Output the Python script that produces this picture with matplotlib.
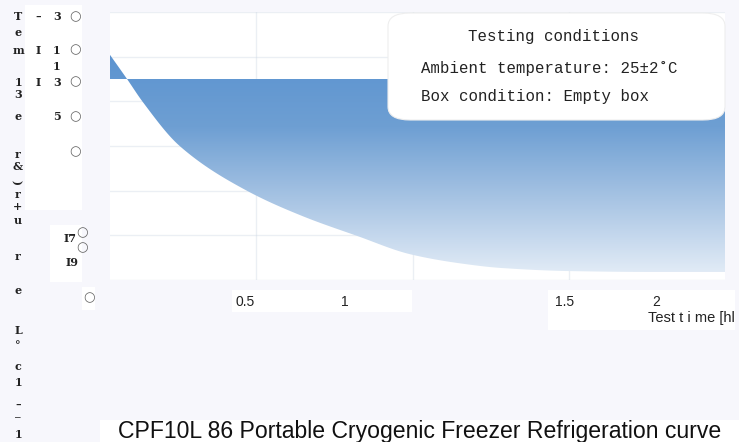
import numpy as np
import matplotlib
matplotlib.use("Agg")
import matplotlib.pyplot as plt
from matplotlib.patches import FancyBboxPatch, Rectangle

W, H = 739, 442

# refrigeration curve (hours, degC)
time_h = [0.064, 0.173, 0.274, 0.51, 0.942, 1.30, 1.647, 1.987, 2.30, 2.564, 3.0, 3.526, 4.0]
temp_c = [10.8, 0.0, -10.3, -30.0, -50.1, -61.5, -70.3, -78.5, -82.5, -84.6, -86.0, -86.4, -86.4]
start_level = 0.0

# garbled axis text as it appears
x_tick_text = ["0.5", "1", "1.5", "2"]
x_label_text = "Test t i me [hl"
y_col1 = ["T", "e", "m", "1", "3", "e", "r", "&", "(", "r", "+", "u", "r", "e", "L", "\u00b0", "c", "1", "\u2013", "\u203e", "1"]
y_col2 = ["\u2013", "I", "I"]
y_col3 = ["3", "1", "1", "3", "5"]
y_circ_text = ["I7", "I9"]
box_title = "Testing conditions"
box_lines = ["Ambient temperature: 25\u00b12\u02daC", "Box condition: Empty box"]
title = "CPF10L 86 Portable Cryogenic Freezer Refrigeration curve"


def fx(x):
    return x / W


def fy(y):
    return 1 - y / H


def pchip(xk, yk, xs):
    # monotone cubic so the curve stays smooth without overshoot
    xk = np.asarray(xk, float)
    yk = np.asarray(yk, float)
    h = np.diff(xk)
    d = np.diff(yk) / h
    m = np.zeros_like(yk)
    for i in range(1, len(xk) - 1):
        if d[i - 1] * d[i] > 0:
            w1 = 2 * h[i] + h[i - 1]
            w2 = h[i] + 2 * h[i - 1]
            m[i] = (w1 + w2) / (w1 / d[i - 1] + w2 / d[i])
    m[0] = d[0]
    m[-1] = d[-1]
    idx = np.clip(np.searchsorted(xk, xs) - 1, 0, len(h) - 1)
    t = (xs - xk[idx]) / h[idx]
    h00 = 2 * t**3 - 3 * t**2 + 1
    h10 = t**3 - 2 * t**2 + t
    h01 = -2 * t**3 + 3 * t**2
    h11 = t**3 - t**2
    return h00 * yk[idx] + h10 * h[idx] * m[idx] + h01 * yk[idx + 1] + h11 * h[idx] * m[idx + 1]


fig = plt.figure(figsize=(W / 100, H / 100), dpi=100)
fig.patch.set_facecolor("#f7f7fc")

ax = fig.add_axes([fx(110), fy(280), fx(725) - fx(110), fy(12) - fy(280)])
ax.set_facecolor("white")
ax.set_xlim(0.064, 4.0)
ax.set_ylim(-90, 30)
for s in ax.spines.values():
    s.set_visible(False)
ax.set_xticks([1, 2, 3])
ax.set_yticks(np.arange(-90, 31, 20))
ax.tick_params(length=0, labelbottom=False, labelleft=False)
ax.grid(True, color="#e3e3e8", lw=1.2, zorder=0)
ax.set_axisbelow(True)

# gradient fill between curve and start level
t = np.linspace(time_h[0], time_h[-1], 600)
v = pchip(time_h, temp_c, t)
poly = ax.fill_between(t, v, start_level, color="none", lw=0)
grad = np.linspace(0, 1, 256).reshape(-1, 1)
cmap = matplotlib.colors.LinearSegmentedColormap.from_list(
    "bl", ["#e4edf7", "#a9c5e4", "#6e9fd3", "#5b93d0"])
img = ax.imshow(grad, cmap=cmap, aspect="auto", origin="lower",
                extent=[time_h[0], time_h[-1], -88, 12], zorder=1)
img.set_clip_path(poly.get_paths()[0], transform=ax.transData)
ax.grid(True, color="#c8d3e0", lw=1, alpha=0.35, zorder=2)

# condition box
box = FancyBboxPatch((fx(388), fy(120)), fx(725) - fx(388), fy(13) - fy(120),
                     boxstyle="round,pad=0,rounding_size=0.03",
                     transform=fig.transFigure, fc="white", ec="#eeeeee", lw=0.8, zorder=5)
fig.add_artist(box)
fig.text(fx(553), fy(37), box_title, ha="center", va="center",
         family="Liberation Mono", fontsize=11.3, color="#222222", zorder=6)
for i, line in enumerate(box_lines):
    fig.text(fx(421), fy(68 + 29 * i), line, ha="left", va="center",
             family="Liberation Mono", fontsize=11.3, color="#222222", zorder=6)

# white patches behind garbled labels
for (x0, y0, x1, y1) in [(25, 5, 82, 210), (50, 225, 82, 282), (82, 287, 95, 310),
                         (232, 290, 412, 312), (548, 290, 735, 330), (100, 420, 739, 442)]:
    fig.add_artist(Rectangle((fx(x0), fy(y1)), fx(x1) - fx(x0), fy(y0) - fy(y1),
                             transform=fig.transFigure, fc="white", ec="none", zorder=1))

# x labels
for txt, xp in zip(x_tick_text, [245, 345, 565, 656]):
    fig.text(fx(xp), fy(302), txt, ha="center", va="center",
             family="Liberation Sans", fontsize=10, color="#222222", zorder=3)
fig.text(fx(735), fy(318), x_label_text, ha="right", va="center",
         family="Liberation Sans", fontsize=10.5, color="#222222", zorder=3)

# left garbled column
serif = dict(family=["DejaVu Serif", "DejaVu Sans"], fontsize=8, fontweight="bold",
             color="#222222", ha="center", va="center", zorder=3)
col1_y = [16, 32, 50, 82, 95, 117, 154, 167, 181, 194, 206, 221, 257, 290, 330, 346, 367, 382, 405, 422, 435]
for ch, yp in zip(y_col1, col1_y):
    # the garbled bracket lies on its side under the ampersand
    fig.text(fx(18), fy(yp), ch, rotation=90 if ch == "(" else 0, **serif)
for ch, yp in zip(y_col2, [17, 50, 82]):
    fig.text(fx(38), fy(yp), ch, **serif)
for ch, yp in zip(y_col3, [17, 50, 66, 82, 117]):
    fig.text(fx(57), fy(yp), ch, **serif)
circ = dict(family="DejaVu Sans", fontsize=9.5, color="#666666", ha="center", va="center", zorder=3)
for yp in [17, 50, 82, 117, 152]:
    fig.text(fx(75), fy(yp), "\u25cb", **circ)
for txt, xp, yp in zip(y_circ_text, [70, 72], [238, 262]):
    fig.text(fx(xp), fy(yp), txt, **serif)
for xp, yp in [(82, 233), (82, 248), (89, 298)]:
    fig.text(fx(xp), fy(yp), "\u25cb", **circ)

fig.text(fx(118), fy(438), title, ha="left", va="baseline",
         family="Liberation Sans", fontsize=16.6, color="#111111", zorder=3)

fig.savefig("out.png", dpi=100, facecolor=fig.get_facecolor())
